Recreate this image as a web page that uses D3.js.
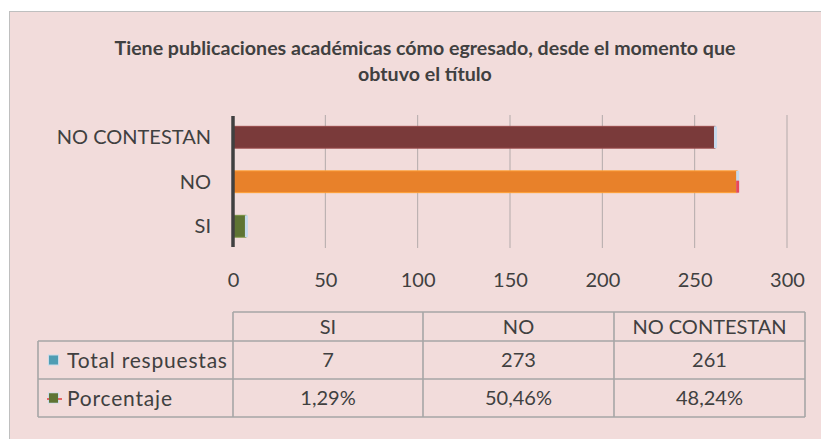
<!DOCTYPE html>
<html>
<head>
<meta charset="utf-8">
<script src="https://cdn.jsdelivr.net/npm/d3@7"></script>
<style>
  html, body { margin: 0; padding: 0; background: #ffffff; }
  svg { display: block; font-family: Lato, "Open Sans", sans-serif; }
</style>
</head>
<body>
<svg id="chart" width="821" height="439"></svg>
<script>
// Survey answers: has the graduate published academic work since graduating
const categories = ["SI", "NO", "NO CONTESTAN"];
const totals = [7, 273, 261];
const percentages = [1.29, 50.46, 48.24];
const seriesNames = ["Total respuestas", "Porcentaje"];
const tickValues = [0, 50, 100, 150, 200, 250, 300];
const titleLines = [
  "Tiene publicaciones académicas cómo egresado, desde el momento que",
  "obtuvo el título"
];

const svg = d3.select("#chart");
const textColor = "#404040";
const gridColor = "#b3aaaa";
const tableLine = "#a6a6a6";

// chart area background
svg.append("rect")
  .attr("x", 9.5).attr("y", 11.5)
  .attr("width", 830).attr("height", 440)
  .attr("fill", "#f2dcdb")
  .attr("stroke", "#bfbfbf").attr("stroke-width", 1);

// title
svg.append("g").selectAll("text")
  .data(titleLines)
  .join("text")
  .attr("x", 425)
  .attr("y", (d, i) => 55 + i * 26)
  .attr("text-anchor", "middle")
  .attr("font-weight", "bold")
  .attr("font-size", 19.6)
  .attr("fill", textColor)
  .text(d => d);

// scales
const x = d3.scaleLinear().domain([0, 300]).range([233, 787]);
const order = categories.slice().reverse(); // top to bottom
const y = d3.scaleBand().domain(order).range([115, 248.5])
  .paddingInner(0.51).paddingOuter(0.255);

const color = d3.scaleOrdinal()
  .domain(categories)
  .range(["#5f7433", "#e8812a", "#7a3a3a"]);

// vertical gridlines
svg.append("g").selectAll("line")
  .data(tickValues.filter(v => v > 0))
  .join("line")
  .attr("x1", d => x(d)).attr("x2", d => x(d))
  .attr("y1", 115).attr("y2", 248)
  .attr("stroke", gridColor).attr("stroke-width", 1);

// bars
const rows = categories.map((c, i) => ({ cat: c, total: totals[i], pct: percentages[i] }));
const bars = svg.append("g");
bars.selectAll("rect.bar")
  .data(rows)
  .join("rect")
  .attr("class", "bar")
  .attr("x", x(0))
  .attr("y", d => y(d.cat))
  .attr("width", d => x(d.total) - x(0))
  .attr("height", y.bandwidth())
  .attr("fill", d => color(d.cat))
  .attr("stroke", d => d3.color(color(d.cat)).brighter(0.6))
  .attr("stroke-width", 1);
// bar end caps
bars.selectAll("rect.cap")
  .data(rows)
  .join("rect")
  .attr("class", "cap")
  .attr("x", d => x(d.total) - 1)
  .attr("y", d => y(d.cat))
  .attr("width", 3)
  .attr("height", y.bandwidth())
  .attr("fill", "#c6d9ec");
bars.selectAll("rect.capred")
  .data(rows.filter(d => d.cat === "NO"))
  .join("rect")
  .attr("class", "capred")
  .attr("x", d => x(d.total) - 1)
  .attr("y", d => y(d.cat) + y.bandwidth() * 0.45)
  .attr("width", 3)
  .attr("height", y.bandwidth() * 0.55)
  .attr("fill", "#e8485a");

// category axis line
svg.append("line")
  .attr("x1", x(0)).attr("x2", x(0))
  .attr("y1", 116).attr("y2", 247)
  .attr("stroke", "#404040").attr("stroke-width", 3.5);

// category labels
svg.append("g").selectAll("text")
  .data(order)
  .join("text")
  .attr("x", 211)
  .attr("y", d => y(d) + y.bandwidth() / 2)
  .attr("dy", "0.36em")
  .attr("text-anchor", "end")
  .attr("font-size", 20)
  .attr("fill", textColor)
  .text(d => d);

// value axis labels
const xAxis = d3.axisBottom(x).tickValues(tickValues).tickSize(0).tickPadding(0);
const gx = svg.append("g").attr("transform", "translate(0,287)").call(xAxis);
gx.select(".domain").remove();
gx.selectAll("text")
  .attr("dy", 0)
  .attr("font-size", 20)
  .attr("font-family", "Lato, 'Open Sans', sans-serif")
  .attr("fill", textColor);

// data table
const colEdges = [233, 423, 614, 805];
const labelLeft = 38;
const rowEdges = [312, 341, 379, 417];
const table = svg.append("g");
const fmtPct = v => d3.format(".2f")(v).replace(".", ",") + "%";

// horizontal lines
table.append("line").attr("x1", colEdges[0]).attr("x2", colEdges[3])
  .attr("y1", rowEdges[0]).attr("y2", rowEdges[0]);
rowEdges.slice(1).forEach(yy => {
  table.append("line").attr("x1", labelLeft).attr("x2", colEdges[3])
    .attr("y1", yy).attr("y2", yy);
});
// vertical lines
table.append("line").attr("x1", labelLeft).attr("x2", labelLeft)
  .attr("y1", rowEdges[1]).attr("y2", rowEdges[3]);
colEdges.forEach(xx => {
  table.append("line").attr("x1", xx).attr("x2", xx)
    .attr("y1", rowEdges[0]).attr("y2", rowEdges[3]);
});
table.selectAll("line").attr("stroke", tableLine).attr("stroke-width", 1.6);

const colMid = i => (colEdges[i] + colEdges[i + 1]) / 2;
const rowMid = j => (rowEdges[j] + rowEdges[j + 1]) / 2;

const cells = [];
categories.forEach((c, i) => {
  cells.push({ x: colMid(i), y: rowMid(0), t: c });
  cells.push({ x: colMid(i), y: rowMid(1), t: String(totals[i]) });
  cells.push({ x: colMid(i), y: rowMid(2), t: fmtPct(percentages[i]) });
});
table.selectAll("text.cell")
  .data(cells)
  .join("text")
  .attr("class", "cell")
  .attr("x", d => d.x).attr("y", d => d.y)
  .attr("dy", "0.36em")
  .attr("text-anchor", "middle")
  .attr("font-size", 20)
  .attr("fill", textColor)
  .text(d => d.t);

// series labels with legend keys
table.selectAll("text.series")
  .data(seriesNames)
  .join("text")
  .attr("class", "series")
  .attr("x", 67)
  .attr("y", (d, j) => rowMid(j + 1))
  .attr("dy", "0.36em")
  .attr("font-size", 21)
  .attr("letter-spacing", 0.8)
  .attr("fill", textColor)
  .text(d => d);

const keyFill = ["#4f9db3", "#5f7433"];
table.selectAll("rect.key")
  .data(seriesNames)
  .join("rect")
  .attr("class", "key")
  .attr("x", 48.5)
  .attr("y", (d, j) => rowMid(j + 1) - 5)
  .attr("width", 10).attr("height", 10)
  .attr("fill", (d, j) => keyFill[j])
  .attr("stroke", "#c9dcea").attr("stroke-width", 1);
table.append("line")
  .attr("x1", 47).attr("x2", 62)
  .attr("y1", rowMid(2) + 1).attr("y2", rowMid(2) + 1)
  .attr("stroke", "#e03c3c").attr("stroke-width", 1.5);
table.append("rect")
  .attr("x", 49).attr("y", rowMid(2) - 4.5)
  .attr("width", 9).attr("height", 9)
  .attr("fill", keyFill[1]);
</script>
</body>
</html>
